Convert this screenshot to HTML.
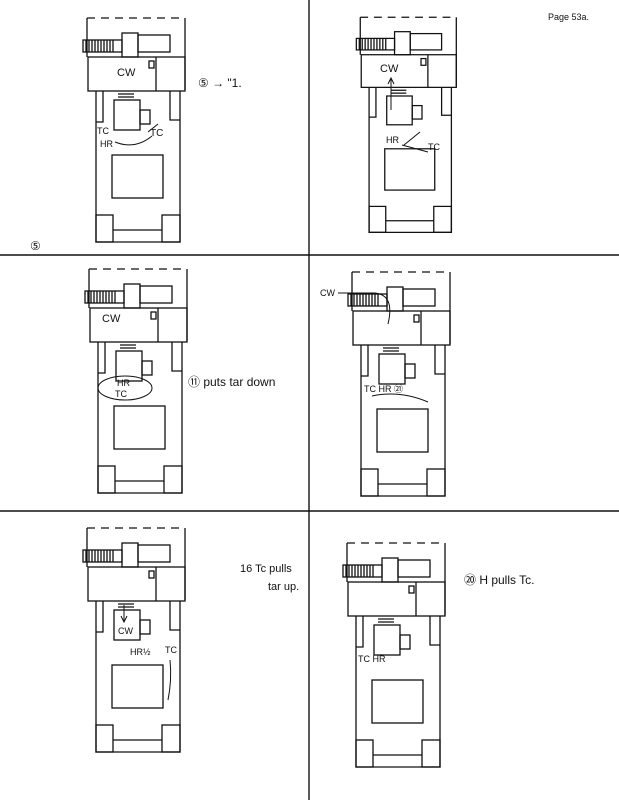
<!DOCTYPE html>
<html><head><style>body{margin:0;background:#fff}svg{display:block}text{font-family:"Liberation Sans",sans-serif;fill:#111}</style></head>
<body>
<svg width="619" height="800" viewBox="0 0 619 800" xmlns="http://www.w3.org/2000/svg">
<defs>
<g id="p" fill="none" stroke="#111" stroke-width="1.3">
<path d="M87 18 H185" stroke-dasharray="8 6"/>
<path d="M87 18 V57 M185 18 V90"/>
<rect x="83" y="40" width="39" height="12"/>
<path d="M86 40 V52 M89 40 V52 M92 40 V52 M95 40 V52 M98 40 V52 M101 40 V52 M104 40 V52 M107 40 V52 M110 40 V52 M113 40 V52"/>
<rect x="122" y="33" width="16" height="24"/>
<rect x="138" y="35" width="32" height="17"/>
<rect x="88" y="57" width="97" height="34"/>
<path d="M156 57 V91"/>
<rect x="149" y="61" width="5" height="7"/>
<path d="M96 91 V242 H180 V91"/>
<rect x="114" y="100" width="26" height="30"/>
<path d="M118 94 H134 M118 97 H134"/>
<rect x="140" y="110" width="10" height="14"/>
<path d="M96 122 H103 V91 M180 120 H170 V91"/>
<rect x="112" y="155" width="51" height="43"/>
<rect x="96" y="215" width="17" height="27"/>
<rect x="162" y="215" width="18" height="27"/>
<path d="M113 230 H162"/>
</g>
</defs>
<g stroke="#111" stroke-width="1.4"><path d="M309 0 V800 M0 255 H619 M0 511 H619"/></g>
<use href="#p" transform="translate(0,0)"/>
<use href="#p" transform="translate(275,0) scale(0.98,0.96)"/>
<use href="#p" transform="translate(2,251)"/>
<use href="#p" transform="translate(265,254)"/>
<use href="#p" transform="translate(0,510)"/>
<use href="#p" transform="translate(260,525)"/>
<g font-size="11">
<text x="117" y="76">CW</text>
<text x="97" y="134" font-size="9">TC</text>
<text x="100" y="147" font-size="9">HR</text>
<text x="150" y="136" font-size="10">TC</text>
<path d="M115 142 Q135 150 152 136 M158 124 L148 132" stroke="#111" fill="none"/>
<text x="198" y="87" font-size="12">⑤ → "1.</text>
<text x="30" y="250" font-size="12">⑤</text>
<text x="380" y="72">CW</text>
<path d="M391 110 V78 M388 84 L391 78 L394 84" stroke="#111" fill="none"/>
<text x="386" y="143" font-size="9">HR</text>
<text x="428" y="150" font-size="9">TC</text>
<path d="M404 145 L420 132 M402 145 L428 152" stroke="#111" fill="none"/>
<text x="548" y="20" font-size="9">Page 53a.</text>
<text x="102" y="322">CW</text>
<ellipse cx="125" cy="388" rx="27" ry="12" fill="none" stroke="#111"/>
<text x="117" y="386" font-size="9">HR</text>
<text x="115" y="397" font-size="9">TC</text>
<text x="188" y="386" font-size="12">⑪ puts tar down</text>
<text x="320" y="296" font-size="9">CW</text>
<path d="M338 293 H375 Q395 295 388 324" stroke="#111" fill="none"/>
<text x="364" y="392" font-size="9">TC HR ㉑</text>
<path d="M372 396 Q400 390 428 402" stroke="#111" fill="none"/>
<text x="118" y="634" font-size="9">CW</text>
<path d="M124 605 V622 M121 616 L124 622 L127 616" stroke="#111" fill="none"/>
<text x="130" y="655" font-size="9">HR½</text>
<text x="165" y="653" font-size="9">TC</text>
<path d="M168 700 Q172 680 170 660" stroke="#111" fill="none"/>
<text x="240" y="572" font-size="11">16 Tc pulls</text>
<text x="268" y="590" font-size="11">tar up.</text>
<text x="464" y="584" font-size="12">⑳ H pulls Tc.</text>
<text x="358" y="662" font-size="9">TC HR</text>
</g>
</svg>
</body></html>
